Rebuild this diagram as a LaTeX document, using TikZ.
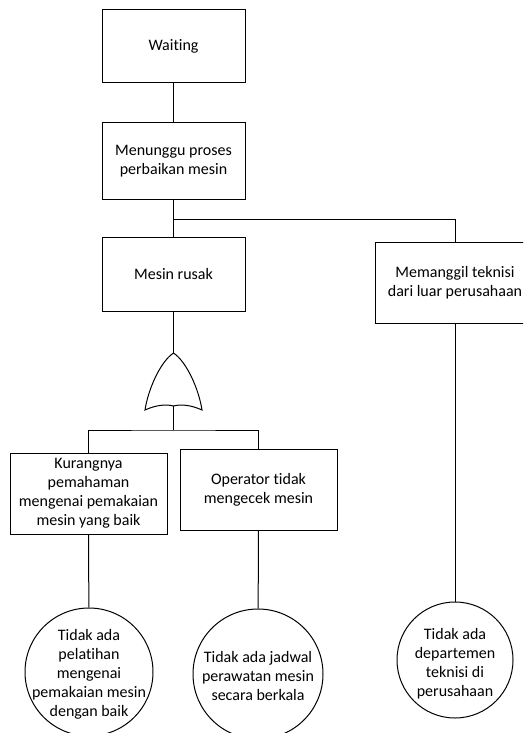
\documentclass[tikz,border=0pt]{standalone}
\usepackage{fontspec}
\setmainfont{Carlito}[Ligatures=NoCommon]
\begin{document}
\begin{tikzpicture}[x=1pt,y=-1pt,line width=1pt,
  txt/.style={font=\fontsize{16pt}{19pt}\selectfont, align=center, inner sep=0pt},
  box/.style={txt, draw, rectangle, minimum width=143pt, minimum height=74pt},
  basic/.style={draw, circle, minimum size=#1, inner sep=0pt}]
\useasboundingbox (0,0) rectangle (523,733);
\clip (0,0) rectangle (523,733);
% events
\node[box, minimum height=73pt] (wait) at (173.5,46.5) {Waiting};
\node[box, minimum height=76pt] (menunggu) at (173.5,161) {Menunggu proses\\perbaikan mesin};
\node[box] (mesin) at (173.5,274) {Mesin rusak};
\node[box, minimum width=160pt, minimum height=81pt] (memanggil) at (455,282.5) {Memanggil teknisi\\dari luar perusahaan};
\node[box, minimum width=157pt, minimum height=81pt] (kurang) at (88.5,493.5) {Kurangnya\\pemahaman\\mengenai pemakaian\\mesin yang baik};
\node[box, minimum width=157pt, minimum height=81pt] (operator) at (258.5,489.5) {Operator tidak\\mengecek mesin};
% basic events
\node[basic=128pt] (c1) at (89,672) {};
\node[txt] (t1) at (89,674) {Tidak ada\\pelatihan\\mengenai\\pemakaian mesin\\dengan baik};
\node[basic=130pt] (c2) at (258,674) {};
\node[txt] (t2) at (258,676) {Tidak ada jadwal\\perawatan mesin\\secara berkala};
\node[basic=116pt] (c3) at (455,660) {};
\node[txt] (t3) at (455,664) {Tidak ada\\departemen\\teknisi di\\perusahaan};
% OR gate
\coordinate (gtop) at (173.5,353);
\coordinate (gbot) at (173.5,406);
\coordinate (gl) at (145,410);
\coordinate (gr) at (202,410);
\draw (gtop) .. controls (160,362) and (148,390) .. (gl)
      .. controls (156,405) and (166,404) .. (gbot)
      .. controls (181,404) and (191,405) .. (gr)
      .. controls (199,390) and (187,362) .. (gtop);
% connectors
\coordinate (j1) at (173.5,219);
\coordinate (j2) at (173.5,430);
\draw (wait) -- (menunggu);
\draw (menunggu) -- (mesin);
\draw (j1) -| (memanggil.north);
\draw (mesin) -- (gtop);
\draw (gbot) -- (j2);
\draw (kurang.north) |- (j2) -| (operator.north);
\draw (kurang) -- (c1);
\draw (operator) -- (c2);
\draw (memanggil) -- (c3);
\end{tikzpicture}
\end{document}
